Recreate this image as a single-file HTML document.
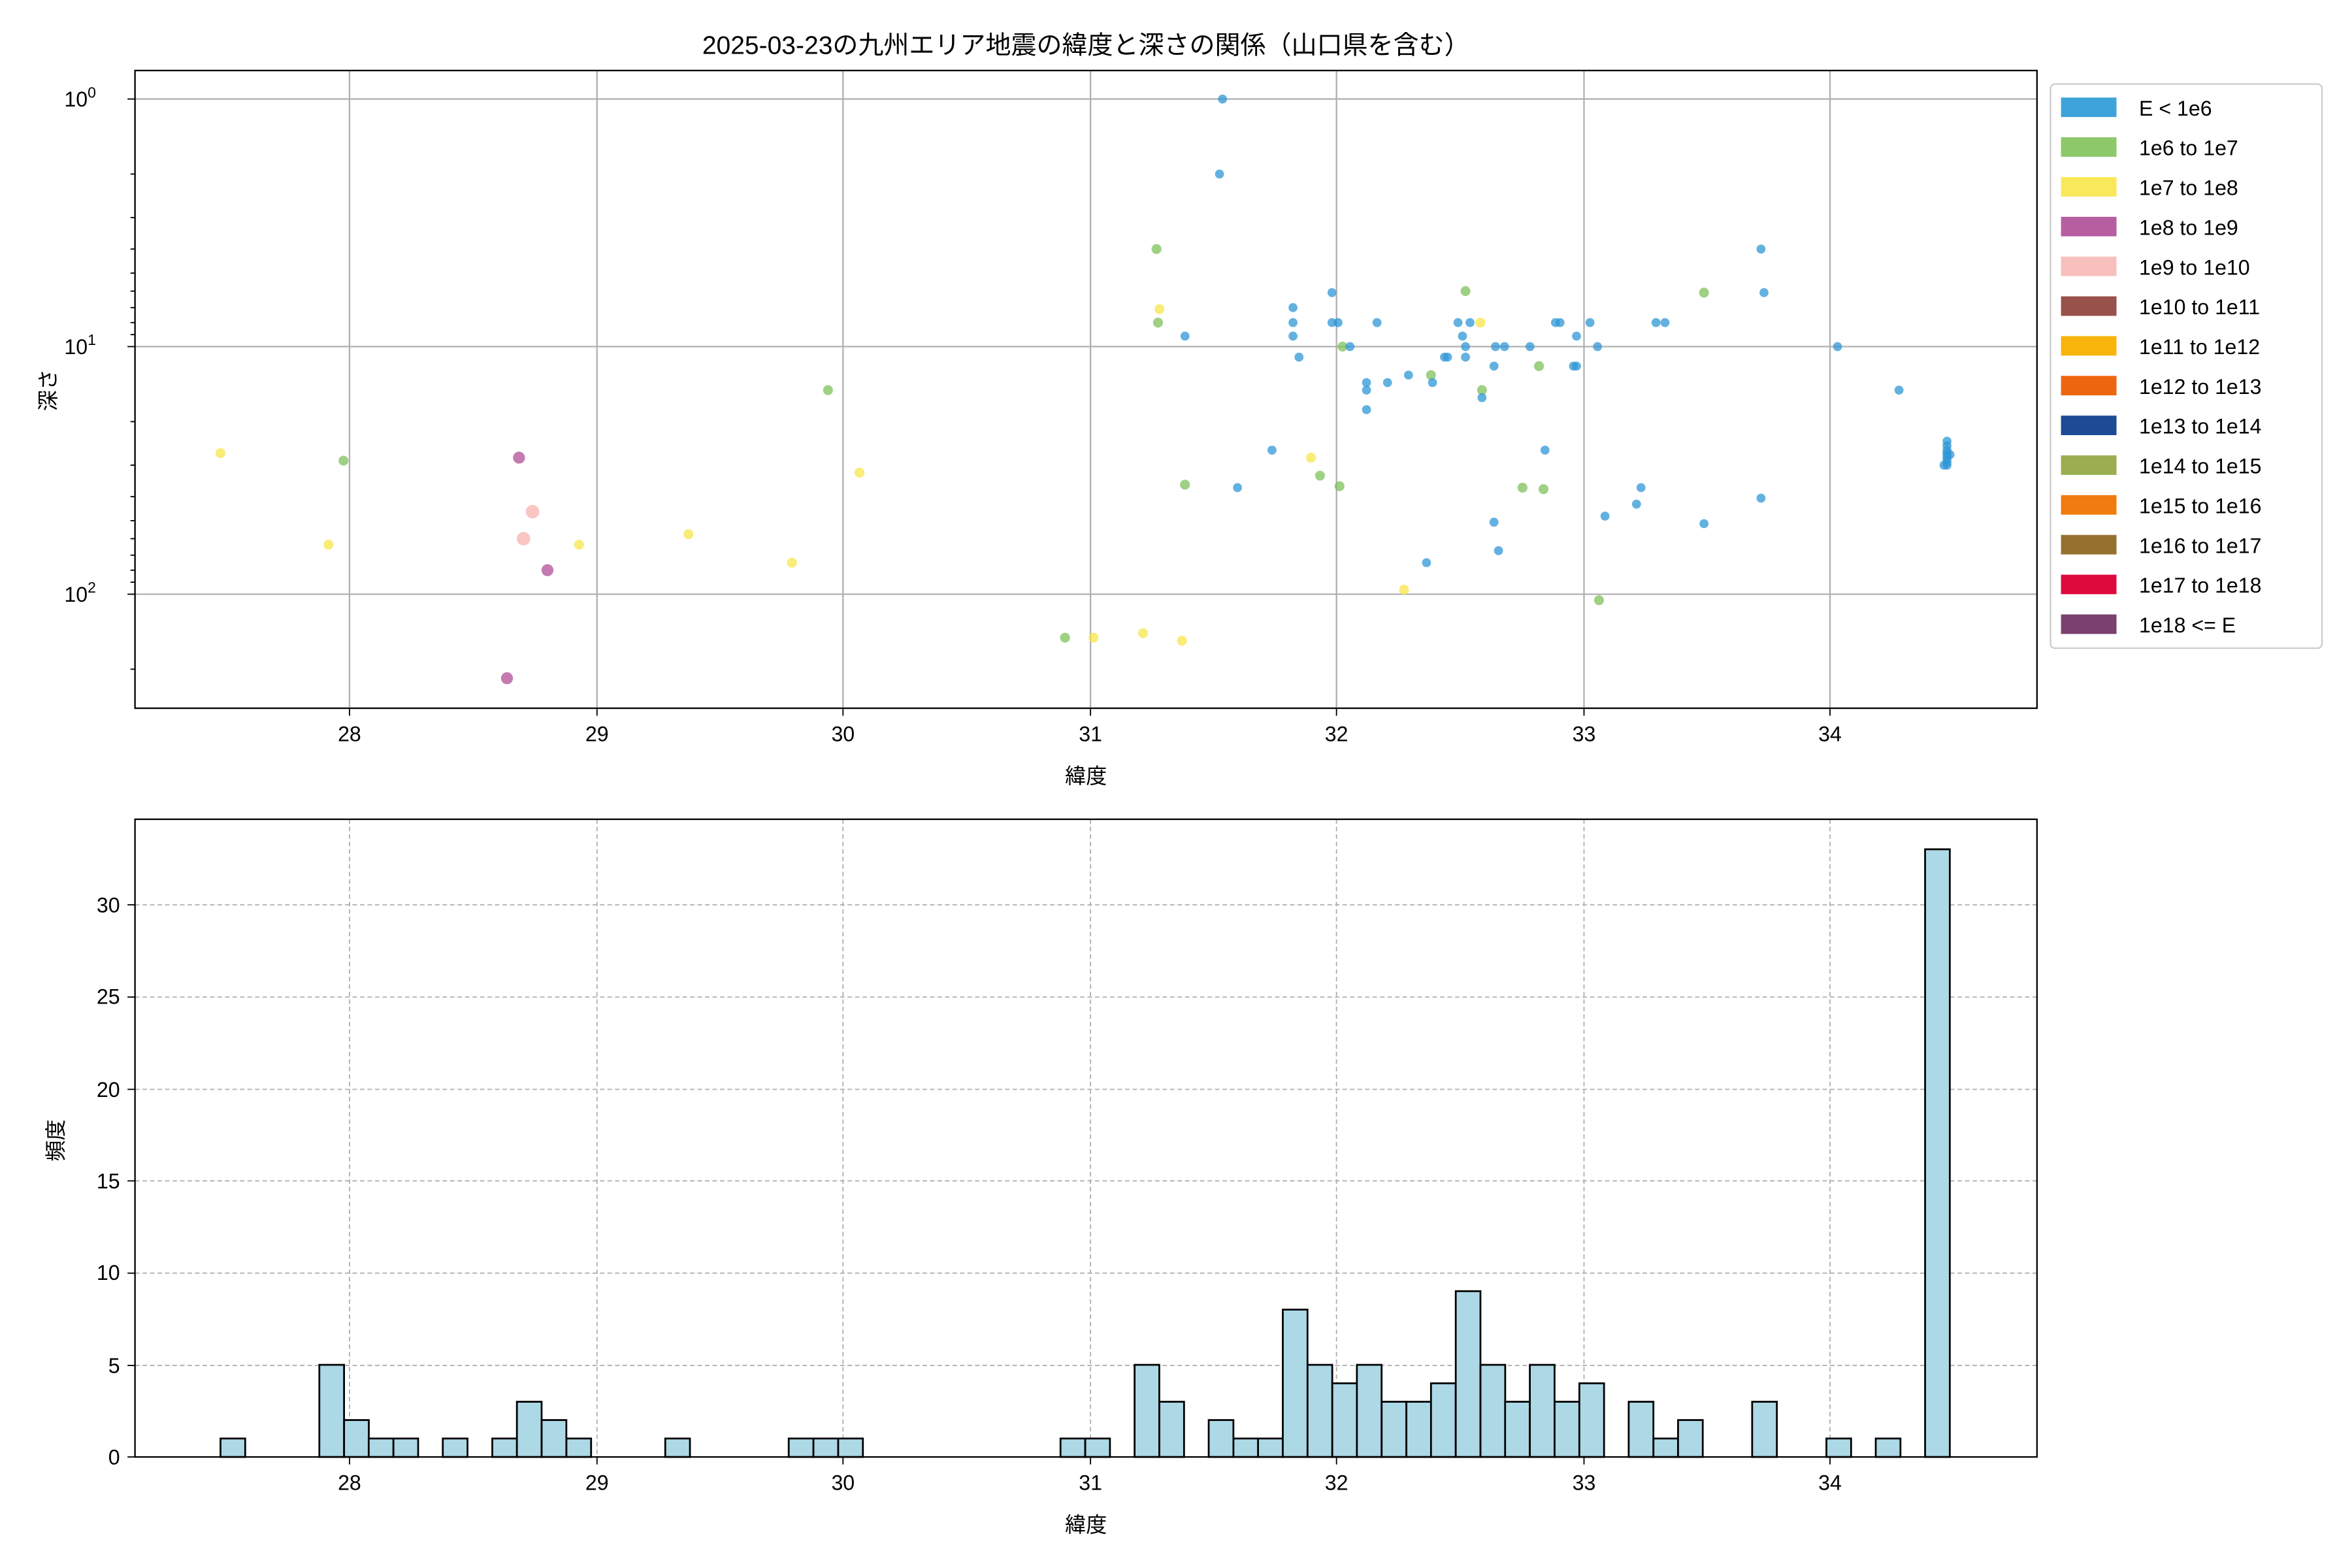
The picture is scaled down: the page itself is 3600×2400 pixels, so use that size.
<!DOCTYPE html>
<html><head><meta charset="utf-8"><style>
html,body{margin:0;padding:0;background:#fff;}
svg{display:block;font-family:"Liberation Sans","Noto Sans CJK JP",sans-serif;}
</style></head><body>
<svg width="3600" height="2400" viewBox="0 0 1568 1045" preserveAspectRatio="none" xmlns="http://www.w3.org/2000/svg">
<rect width="1568" height="1045" fill="#fff"/>
<text x="724" y="36" font-size="17" text-anchor="middle" fill="#000">2025-03-23の九州エリア地震の緯度と深さの関係（山口県を含む）</text>
<g stroke="#b0b0b0" stroke-width="1">
<line x1="233" y1="47" x2="233" y2="472"/><line x1="398" y1="47" x2="398" y2="472"/><line x1="562" y1="47" x2="562" y2="472"/><line x1="727" y1="47" x2="727" y2="472"/><line x1="891" y1="47" x2="891" y2="472"/><line x1="1056" y1="47" x2="1056" y2="472"/><line x1="1220" y1="47" x2="1220" y2="472"/>
<line x1="90" y1="66" x2="1358" y2="66"/><line x1="90" y1="231" x2="1358" y2="231"/><line x1="90" y1="396" x2="1358" y2="396"/>
</g>
<g stroke="#000" stroke-width="0.8">
<line x1="233" y1="472" x2="233" y2="477"/><line x1="398" y1="472" x2="398" y2="477"/><line x1="562" y1="472" x2="562" y2="477"/><line x1="727" y1="472" x2="727" y2="477"/><line x1="891" y1="472" x2="891" y2="477"/><line x1="1056" y1="472" x2="1056" y2="477"/><line x1="1220" y1="472" x2="1220" y2="477"/>
<line x1="85" y1="66" x2="90" y2="66"/><line x1="85" y1="231" x2="90" y2="231"/><line x1="85" y1="396" x2="90" y2="396"/>
<line x1="87" y1="116" x2="90" y2="116"/><line x1="87" y1="145" x2="90" y2="145"/><line x1="87" y1="166" x2="90" y2="166"/><line x1="87" y1="182" x2="90" y2="182"/><line x1="87" y1="194" x2="90" y2="194"/><line x1="87" y1="205" x2="90" y2="205"/><line x1="87" y1="215" x2="90" y2="215"/><line x1="87" y1="223" x2="90" y2="223"/>
<line x1="87" y1="281" x2="90" y2="281"/><line x1="87" y1="310" x2="90" y2="310"/><line x1="87" y1="331" x2="90" y2="331"/><line x1="87" y1="347" x2="90" y2="347"/><line x1="87" y1="359" x2="90" y2="359"/><line x1="87" y1="370" x2="90" y2="370"/><line x1="87" y1="380" x2="90" y2="380"/><line x1="87" y1="388" x2="90" y2="388"/>
<line x1="87" y1="446" x2="90" y2="446"/>
</g>
<g font-size="14" fill="#000" text-anchor="middle">
<text x="233" y="494">28</text><text x="398" y="494">29</text><text x="562" y="494">30</text><text x="727" y="494">31</text><text x="891" y="494">32</text><text x="1056" y="494">33</text><text x="1220" y="494">34</text>
</g>
<g font-size="14" fill="#000" text-anchor="end">
<text x="64" y="71">10<tspan font-size="10" dy="-6">0</tspan></text>
<text x="64" y="236">10<tspan font-size="10" dy="-6">1</tspan></text>
<text x="64" y="401">10<tspan font-size="10" dy="-6">2</tspan></text>
</g>
<text x="724" y="522" font-size="14" text-anchor="middle">緯度</text>
<text transform="translate(37,260) rotate(-90)" font-size="14" text-anchor="middle">深さ</text>
<g fill="#f7e54a" fill-opacity="0.75">
<circle cx="147" cy="302" r="3.3"/><circle cx="219" cy="363" r="3.3"/><circle cx="386" cy="363" r="3.3"/><circle cx="459" cy="356" r="3.3"/><circle cx="528" cy="375" r="3.3"/><circle cx="573" cy="315" r="3.3"/><circle cx="729" cy="425" r="3.3"/><circle cx="762" cy="422" r="3.3"/><circle cx="788" cy="427" r="3.3"/><circle cx="773" cy="206" r="3.3"/><circle cx="874" cy="305" r="3.3"/><circle cx="936" cy="393" r="3.3"/><circle cx="987" cy="215" r="3.3"/>
</g>
<g fill="#7fc05a" fill-opacity="0.75">
<circle cx="229" cy="307" r="3.3"/><circle cx="552" cy="260" r="3.3"/><circle cx="710" cy="425" r="3.3"/><circle cx="771" cy="166" r="3.3"/><circle cx="772" cy="215" r="3.3"/><circle cx="790" cy="323" r="3.3"/><circle cx="880" cy="317" r="3.3"/><circle cx="893" cy="324" r="3.3"/><circle cx="895" cy="231" r="3.3"/><circle cx="954" cy="250" r="3.3"/><circle cx="977" cy="194" r="3.3"/><circle cx="988" cy="260" r="3.3"/><circle cx="1015" cy="325" r="3.3"/><circle cx="1026" cy="244" r="3.3"/><circle cx="1029" cy="326" r="3.3"/><circle cx="1066" cy="400" r="3.3"/><circle cx="1136" cy="195" r="3.3"/>
</g>
<g fill="#b14f97" fill-opacity="0.75">
<circle cx="346" cy="305" r="4"/><circle cx="365" cy="380" r="4"/><circle cx="338" cy="452" r="4"/>
</g>
<g fill="#f7b3b0" fill-opacity="0.75">
<circle cx="355" cy="341" r="4.5"/><circle cx="349" cy="359" r="4.5"/>
</g>
<g fill="#2f97d6" fill-opacity="0.75">
<circle cx="815" cy="66" r="3"/><circle cx="813" cy="116" r="3"/><circle cx="790" cy="224" r="3"/><circle cx="825" cy="325" r="3"/><circle cx="848" cy="300" r="3"/><circle cx="862" cy="205" r="3"/><circle cx="862" cy="215" r="3"/><circle cx="862" cy="224" r="3"/><circle cx="866" cy="238" r="3"/><circle cx="888" cy="195" r="3"/><circle cx="888" cy="215" r="3"/><circle cx="892" cy="215" r="3"/><circle cx="900" cy="231" r="3"/><circle cx="911" cy="255" r="3"/><circle cx="911" cy="260" r="3"/><circle cx="911" cy="273" r="3"/><circle cx="918" cy="215" r="3"/><circle cx="925" cy="255" r="3"/><circle cx="939" cy="250" r="3"/><circle cx="951" cy="375" r="3"/><circle cx="955" cy="255" r="3"/><circle cx="963" cy="238" r="3"/><circle cx="965" cy="238" r="3"/><circle cx="972" cy="215" r="3"/><circle cx="975" cy="224" r="3"/><circle cx="977" cy="231" r="3"/><circle cx="977" cy="238" r="3"/><circle cx="980" cy="215" r="3"/><circle cx="988" cy="265" r="3"/><circle cx="996" cy="244" r="3"/><circle cx="997" cy="231" r="3"/><circle cx="1003" cy="231" r="3"/><circle cx="999" cy="367" r="3"/><circle cx="996" cy="348" r="3"/><circle cx="1020" cy="231" r="3"/><circle cx="1030" cy="300" r="3"/><circle cx="1037" cy="215" r="3"/><circle cx="1040" cy="215" r="3"/><circle cx="1049" cy="244" r="3"/><circle cx="1051" cy="244" r="3"/><circle cx="1051" cy="224" r="3"/><circle cx="1060" cy="215" r="3"/><circle cx="1065" cy="231" r="3"/><circle cx="1070" cy="344" r="3"/><circle cx="1091" cy="336" r="3"/><circle cx="1094" cy="325" r="3"/><circle cx="1104" cy="215" r="3"/><circle cx="1110" cy="215" r="3"/><circle cx="1136" cy="349" r="3"/><circle cx="1174" cy="166" r="3"/><circle cx="1176" cy="195" r="3"/><circle cx="1174" cy="332" r="3"/><circle cx="1225" cy="231" r="3"/><circle cx="1266" cy="260" r="3"/>
<circle cx="1298" cy="294" r="3"/><circle cx="1298" cy="297" r="3"/><circle cx="1298" cy="300" r="3"/><circle cx="1298" cy="302" r="3"/><circle cx="1298" cy="304" r="3"/><circle cx="1298" cy="306" r="3"/><circle cx="1298" cy="308" r="3"/><circle cx="1298" cy="310" r="3"/><circle cx="1296" cy="310" r="3"/><circle cx="1300" cy="303" r="3"/>
</g>
<rect x="90" y="47" width="1268" height="425" fill="none" stroke="#000" stroke-width="1"/>
<rect x="1367" y="56" width="181" height="376" rx="3" fill="#fff" stroke="#ccc"/>
<g>
<rect x="1374" y="65" width="37" height="13" fill="#3fa3db"/>
<rect x="1374" y="91.5" width="37" height="13" fill="#8dc86a"/>
<rect x="1374" y="118" width="37" height="13" fill="#f9e95a"/>
<rect x="1374" y="144.5" width="37" height="13" fill="#b75ea0"/>
<rect x="1374" y="171" width="37" height="13" fill="#f8c0bc"/>
<rect x="1374" y="197.5" width="37" height="13" fill="#98514b"/>
<rect x="1374" y="224" width="37" height="13" fill="#f9b40c"/>
<rect x="1374" y="250.5" width="37" height="13" fill="#ee650f"/>
<rect x="1374" y="277" width="37" height="13" fill="#1c4a94"/>
<rect x="1374" y="303.5" width="37" height="13" fill="#9aae50"/>
<rect x="1374" y="330" width="37" height="13" fill="#f17b0f"/>
<rect x="1374" y="356.5" width="37" height="13" fill="#95702e"/>
<rect x="1374" y="383" width="37" height="13" fill="#df0a3c"/>
<rect x="1374" y="409.5" width="37" height="13" fill="#7a406e"/>
</g>
<g font-size="14" fill="#000">
<text x="1426" y="77">E &lt; 1e6</text>
<text x="1426" y="103.5">1e6 to 1e7</text>
<text x="1426" y="130">1e7 to 1e8</text>
<text x="1426" y="156.5">1e8 to 1e9</text>
<text x="1426" y="183">1e9 to 1e10</text>
<text x="1426" y="209.5">1e10 to 1e11</text>
<text x="1426" y="236">1e11 to 1e12</text>
<text x="1426" y="262.5">1e12 to 1e13</text>
<text x="1426" y="289">1e13 to 1e14</text>
<text x="1426" y="315.5">1e14 to 1e15</text>
<text x="1426" y="342">1e15 to 1e16</text>
<text x="1426" y="368.5">1e16 to 1e17</text>
<text x="1426" y="395">1e17 to 1e18</text>
<text x="1426" y="421.5">1e18 &lt;= E</text>
</g>
<g stroke="#b0b0b0" stroke-width="0.8" stroke-dasharray="3,2">
<line x1="233" y1="546" x2="233" y2="971"/><line x1="398" y1="546" x2="398" y2="971"/><line x1="562" y1="546" x2="562" y2="971"/><line x1="727" y1="546" x2="727" y2="971"/><line x1="891" y1="546" x2="891" y2="971"/><line x1="1056" y1="546" x2="1056" y2="971"/><line x1="1220" y1="546" x2="1220" y2="971"/>
<line x1="90" y1="910" x2="1358" y2="910"/><line x1="90" y1="848.5" x2="1358" y2="848.5"/><line x1="90" y1="787" x2="1358" y2="787"/><line x1="90" y1="726" x2="1358" y2="726"/><line x1="90" y1="664.5" x2="1358" y2="664.5"/><line x1="90" y1="603" x2="1358" y2="603"/>
</g>
<g fill="#add8e6" stroke="#000" stroke-width="1.2">
<rect x="147" y="958.7" width="16.47" height="12.3"/>
<rect x="212.9" y="909.6" width="16.47" height="61.4"/>
<rect x="229.4" y="946.4" width="16.47" height="24.6"/>
<rect x="245.8" y="958.7" width="16.47" height="12.3"/>
<rect x="262.3" y="958.7" width="16.47" height="12.3"/>
<rect x="295.2" y="958.7" width="16.47" height="12.3"/>
<rect x="328.2" y="958.7" width="16.47" height="12.3"/>
<rect x="344.6" y="934.2" width="16.47" height="36.8"/>
<rect x="361.1" y="946.4" width="16.47" height="24.6"/>
<rect x="377.6" y="958.7" width="16.47" height="12.3"/>
<rect x="443.5" y="958.7" width="16.47" height="12.3"/>
<rect x="525.8" y="958.7" width="16.47" height="12.3"/>
<rect x="542.3" y="958.7" width="16.47" height="12.3"/>
<rect x="558.8" y="958.7" width="16.47" height="12.3"/>
<rect x="707" y="958.7" width="16.47" height="12.3"/>
<rect x="723.5" y="958.7" width="16.47" height="12.3"/>
<rect x="756.4" y="909.6" width="16.47" height="61.4"/>
<rect x="772.9" y="934.2" width="16.47" height="36.8"/>
<rect x="805.8" y="946.4" width="16.47" height="24.6"/>
<rect x="822.3" y="958.7" width="16.47" height="12.3"/>
<rect x="838.7" y="958.7" width="16.47" height="12.3"/>
<rect x="855.2" y="872.8" width="16.47" height="98.2"/>
<rect x="871.7" y="909.6" width="16.47" height="61.4"/>
<rect x="888.2" y="921.9" width="16.47" height="49.1"/>
<rect x="904.6" y="909.6" width="16.47" height="61.4"/>
<rect x="921.1" y="934.2" width="16.47" height="36.8"/>
<rect x="937.6" y="934.2" width="16.47" height="36.8"/>
<rect x="954" y="921.9" width="16.47" height="49.1"/>
<rect x="970.5" y="860.5" width="16.47" height="110.5"/>
<rect x="987" y="909.6" width="16.47" height="61.4"/>
<rect x="1003.4" y="934.2" width="16.47" height="36.8"/>
<rect x="1019.9" y="909.6" width="16.47" height="61.4"/>
<rect x="1036.4" y="934.2" width="16.47" height="36.8"/>
<rect x="1052.9" y="921.9" width="16.47" height="49.1"/>
<rect x="1085.8" y="934.2" width="16.47" height="36.8"/>
<rect x="1102.3" y="958.7" width="16.47" height="12.3"/>
<rect x="1118.7" y="946.4" width="16.47" height="24.6"/>
<rect x="1168.1" y="934.2" width="16.47" height="36.8"/>
<rect x="1217.6" y="958.7" width="16.47" height="12.3"/>
<rect x="1250.5" y="958.7" width="16.47" height="12.3"/>
<rect x="1283.4" y="566" width="16.47" height="405"/>
</g>
<rect x="90" y="546" width="1268" height="425" fill="none" stroke="#000" stroke-width="1"/>
<g stroke="#000" stroke-width="0.8">
<line x1="233" y1="971" x2="233" y2="976"/><line x1="398" y1="971" x2="398" y2="976"/><line x1="562" y1="971" x2="562" y2="976"/><line x1="727" y1="971" x2="727" y2="976"/><line x1="891" y1="971" x2="891" y2="976"/><line x1="1056" y1="971" x2="1056" y2="976"/><line x1="1220" y1="971" x2="1220" y2="976"/>
<line x1="85" y1="971" x2="90" y2="971"/><line x1="85" y1="910" x2="90" y2="910"/><line x1="85" y1="848.5" x2="90" y2="848.5"/><line x1="85" y1="787" x2="90" y2="787"/><line x1="85" y1="726" x2="90" y2="726"/><line x1="85" y1="664.5" x2="90" y2="664.5"/><line x1="85" y1="603" x2="90" y2="603"/>
</g>
<g font-size="14" fill="#000" text-anchor="middle">
<text x="233" y="993">28</text><text x="398" y="993">29</text><text x="562" y="993">30</text><text x="727" y="993">31</text><text x="891" y="993">32</text><text x="1056" y="993">33</text><text x="1220" y="993">34</text>
</g>
<g font-size="14" fill="#000" text-anchor="end">
<text x="80" y="976">0</text><text x="80" y="915">5</text><text x="80" y="853">10</text><text x="80" y="792">15</text><text x="80" y="731">20</text><text x="80" y="669">25</text><text x="80" y="608">30</text>
</g>
<text x="724" y="1021" font-size="14" text-anchor="middle">緯度</text>
<text transform="translate(42,760) rotate(-90)" font-size="14" text-anchor="middle">頻度</text>
</svg>
</body></html>
